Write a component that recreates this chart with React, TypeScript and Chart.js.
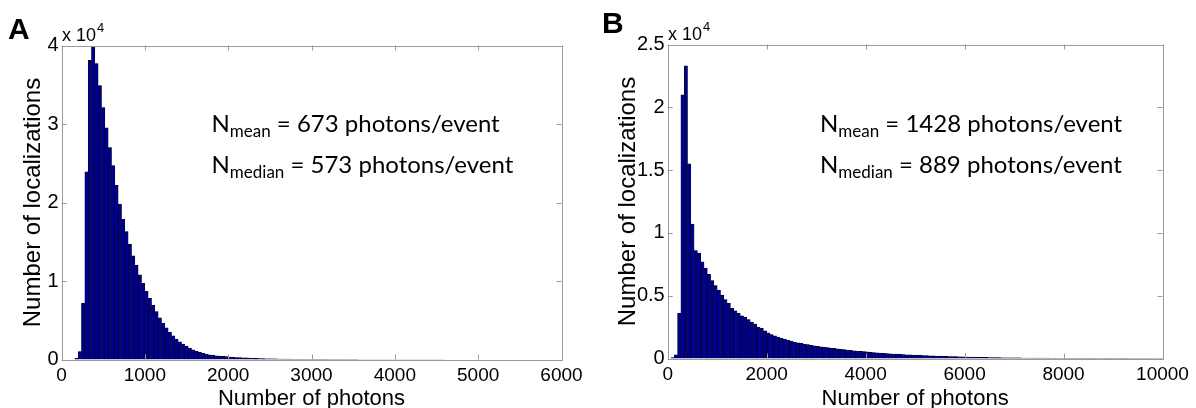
import React, { useEffect, useRef } from 'react';
import { Chart, registerables } from 'chart.js';

Chart.register(...registerables);

// ---------------- data ----------------
// Panel A: 150 histogram bins of 40 photons each (0 .. 6000)
const BIN_WIDTH_A = 40;
const countsA = [
  0, 0, 0, 0, 150, 1000, 7200, 23900, 38100, 39900,
  37700, 34900, 32100, 29500, 27000, 24700, 22200, 19800, 17900, 16300,
  14700, 13200, 12000, 10800, 9700, 8700, 7800, 6900, 6100, 5300,
  4650, 4050, 3500, 3000, 2600, 2250, 1950, 1700, 1450, 1220,
  1030, 900, 800, 700, 600, 520, 460, 430, 400, 360,
  320, 280, 250, 230, 210, 200, 180, 160, 140, 120,
  110, 100, 90, 80, 70, 60, 50, 45, 40, 35,
  30, 25, 25, 20, 20, 18, 15, 15, 12, 12,
  10, 10, 10, 8, 8, 8, 6, 6, 6, 5,
  5, 5, 4, 4, 4, 3, 3, 3, 3, 2,
  2, 2, 2, 2, 2, 1, 1, 1, 1, 1,
  1, 1, 1, 1, 1, 0, 0, 0, 0, 0,
  0, 0, 0, 0, 0, 0, 0, 0, 0, 0,
  0, 0, 0, 0, 0, 0, 0, 0, 0, 0,
  0, 0, 0, 0, 0, 0, 0, 0, 0, 0,
];

// Panel B: 150 histogram bins of 66.67 photons each (0 .. 10000)
const BIN_WIDTH_B = 10000 / 150;
const countsB = [
  0, 80, 300, 3600, 21000, 23300, 15500, 10700, 8600, 8400,
  7700, 7200, 6700, 6200, 5800, 5450, 5050, 4700, 4400, 4000,
  3800, 3600, 3400, 3300, 3100, 2900, 2750, 2500, 2400, 2200,
  2050, 1900, 1800, 1700, 1600, 1520, 1450, 1380, 1310, 1250,
  1200, 1150, 1100, 1050, 1000, 970, 930, 890, 860, 830,
  800, 770, 740, 710, 680, 650, 620, 600, 570, 550,
  530, 500, 480, 460, 440, 420, 400, 380, 360, 350,
  330, 320, 300, 290, 280, 260, 250, 240, 230, 220,
  210, 200, 190, 180, 170, 160, 150, 150, 140, 130,
  120, 120, 110, 100, 100, 90, 90, 80, 80, 70,
  70, 60, 60, 60, 50, 50, 50, 40, 40, 40,
  40, 30, 30, 30, 30, 30, 20, 20, 20, 20,
  20, 20, 20, 15, 15, 15, 15, 15, 10, 10,
  10, 10, 10, 10, 10, 10, 8, 8, 8, 8,
  6, 6, 6, 6, 5, 5, 5, 5, 4, 4,
];

const xRangeA = [0, 6000];
const xStepA = 1000;
const yRangeA = [0, 40000];
const yStepA = 10000;

const xRangeB = [0, 10000];
const xStepB = 2000;
const yRangeB = [0, 25000];
const yStepB = 5000;

const Y_SCALE_FACTOR = 10000; // "x 10^4"

const statsA = { mean: 673, median: 573 };
const statsB = { mean: 1428, median: 889 };

const X_TITLE = 'Number of photons';
const Y_TITLE = 'Number of localizations';

// ---------------- styling ----------------
const W = 598;
const H = 408;
const ARIAL = '"Liberation Sans", Arial, Helvetica, sans-serif';
const NOTE_FONT = 'Lato, "Open Sans", sans-serif';
const BAR_COLOR = 'rgb(0,0,140)';
const FRAME_COLOR = '#9a9a9a';

type Spec = {
  letter: string;
  counts: number[];
  binWidth: number;
  xRange: number[];
  xStep: number;
  yRange: number[];
  yStep: number;
  stats: { mean: number; median: number };
  area: { left: number; top: number; right: number; bottom: number };
  yTitlePad: number;
  letterPos: [number, number];
  expPos: [number, number];
  notePos: [number, number];
  noteGap: number;
};

const framePlugin = {
  id: 'matlabFrame',
  afterDatasetsDraw(chart: any) {
    const { ctx, chartArea, scales } = chart;
    const { left, right, top, bottom } = chartArea;
    const L = 5;
    ctx.save();
    ctx.strokeStyle = FRAME_COLOR;
    ctx.lineWidth = 1;
    ctx.beginPath();
    for (const t of scales.x.ticks) {
      const px = Math.round(scales.x.getPixelForValue(t.value)) + 0.5;
      ctx.moveTo(px, bottom);
      ctx.lineTo(px, bottom - L);
      ctx.moveTo(px, top);
      ctx.lineTo(px, top + L);
    }
    for (const t of scales.y.ticks) {
      const py = Math.round(scales.y.getPixelForValue(t.value)) + 0.5;
      ctx.moveTo(left, py);
      ctx.lineTo(left + L, py);
      ctx.moveTo(right, py);
      ctx.lineTo(right - L, py);
    }
    ctx.stroke();
    ctx.strokeRect(Math.round(left) + 0.5, Math.round(top) + 0.5, Math.round(right - left), Math.round(bottom - top));
    ctx.restore();
  },
};

function makeNotesPlugin(spec: Spec) {
  return {
    id: 'notes',
    afterDraw(chart: any) {
      const ctx = chart.ctx as CanvasRenderingContext2D;
      ctx.save();
      ctx.fillStyle = '#000';
      ctx.textAlign = 'left';
      ctx.textBaseline = 'alphabetic';
      // panel letter
      ctx.font = `bold 30px ${ARIAL}`;
      ctx.fillText(spec.letter, spec.letterPos[0], spec.letterPos[1]);
      // exponent label
      ctx.font = `18px ${ARIAL}`;
      const base = 'x 10';
      ctx.fillText(base, spec.expPos[0], spec.expPos[1]);
      const bw = ctx.measureText(base).width;
      ctx.font = `13px ${ARIAL}`;
      ctx.fillText(String(Math.log10(Y_SCALE_FACTOR)), spec.expPos[0] + bw + 1, spec.expPos[1] - 9);
      // stats notes
      const drawNote = (sub: string, rest: string, x: number, y: number) => {
        ctx.font = `24px ${NOTE_FONT}`;
        ctx.fillText('N', x, y);
        let cx = x + ctx.measureText('N').width;
        ctx.font = `17px ${NOTE_FONT}`;
        ctx.fillText(sub, cx, y + 5);
        cx += ctx.measureText(sub).width;
        ctx.font = `24px ${NOTE_FONT}`;
        ctx.fillText(rest, cx, y);
      };
      drawNote('mean', ` = ${spec.stats.mean} photons/event`, spec.notePos[0], spec.notePos[1]);
      drawNote('median', ` = ${spec.stats.median} photons/event`, spec.notePos[0], spec.notePos[1] + spec.noteGap);
      ctx.restore();
    },
  };
}

function makeConfig(spec: Spec): any {
  const data = spec.counts.map((c, i) => ({ x: (i + 0.5) * spec.binWidth, y: c }));
  return {
    type: 'bar',
    data: {
      datasets: [
        {
          data,
          backgroundColor: BAR_COLOR,
          borderColor: '#000',
          borderWidth: { left: 0.5, right: 0.5, top: 0.5, bottom: 0 },
          barPercentage: 1,
          categoryPercentage: 1,
        },
      ],
    },
    options: {
      responsive: false,
      animation: false,
      devicePixelRatio: 1,
      layout: { padding: { left: 0, top: spec.area.top, right: W - spec.area.right, bottom: 0 } },
      plugins: { legend: { display: false }, tooltip: { enabled: false } },
      scales: {
        x: {
          type: 'linear',
          min: spec.xRange[0],
          max: spec.xRange[1],
          offset: false,
          grid: { display: false, drawTicks: false },
          border: { display: false },
          ticks: {
            stepSize: spec.xStep,
            color: '#000',
            padding: 5,
            maxRotation: 0,
            autoSkip: false,
            font: { family: ARIAL, size: 19 },
            callback: (v: number) => String(v),
          },
          title: {
            display: true,
            text: X_TITLE,
            color: '#000',
            font: { family: ARIAL, size: 22, lineHeight: 1 },
            padding: { top: 0, bottom: -2 },
          },
          afterFit: (s: any) => {
            s.height = H - spec.area.bottom;
          },
        },
        y: {
          type: 'linear',
          min: spec.yRange[0],
          max: spec.yRange[1],
          grid: { display: false, drawTicks: false },
          border: { display: false },
          ticks: {
            stepSize: spec.yStep,
            color: '#000',
            padding: 3,
            font: { family: ARIAL, size: 20 },
            callback: (v: number) => String(v / Y_SCALE_FACTOR),
          },
          title: {
            display: true,
            text: Y_TITLE,
            color: '#000',
            font: { family: ARIAL, size: 24, lineHeight: 1 },
            padding: { top: spec.yTitlePad, bottom: 0 },
          },
          afterFit: (s: any) => {
            s.width = spec.area.left;
          },
        },
      },
    },
    plugins: [framePlugin, makeNotesPlugin(spec)],
  };
}

const specA: Spec = {
  letter: 'A',
  counts: countsA,
  binWidth: BIN_WIDTH_A,
  xRange: xRangeA,
  xStep: xStepA,
  yRange: yRangeA,
  yStep: yStepA,
  stats: statsA,
  area: { left: 61.5, top: 45.5, right: 561.5, bottom: 359.5 },
  yTitlePad: 21,
  letterPos: [8, 39],
  expPos: [62, 41],
  notePos: [211.5, 131.5],
  noteGap: 41.5,
};

const specB: Spec = {
  letter: 'B',
  counts: countsB,
  binWidth: BIN_WIDTH_B,
  xRange: xRangeB,
  xStep: xStepB,
  yRange: yRangeB,
  yStep: yStepB,
  stats: statsB,
  area: { left: 69.7, top: 44.5, right: 564.5, bottom: 358.5 },
  yTitlePad: 18,
  letterPos: [4, 33],
  expPos: [70, 40],
  notePos: [222, 131.5],
  noteGap: 41.5,
};

function Panel({ spec, left }: { spec: Spec; left: number }) {
  const ref = useRef<HTMLCanvasElement | null>(null);
  useEffect(() => {
    if (!ref.current) return;
    const chart = new Chart(ref.current, makeConfig(spec));
    return () => chart.destroy();
  }, [spec]);
  return (
    <canvas
      ref={ref}
      width={W}
      height={H}
      style={{ position: 'absolute', left, top: 0, width: W, height: H, display: 'block' }}
    />
  );
}

export default function App() {
  return (
    <div style={{ position: 'absolute', left: 0, top: 0, width: 1196, height: 408, background: '#fff', overflow: 'hidden' }}>
      <Panel spec={specA} left={0} />
      <Panel spec={specB} left={598} />
    </div>
  );
}
